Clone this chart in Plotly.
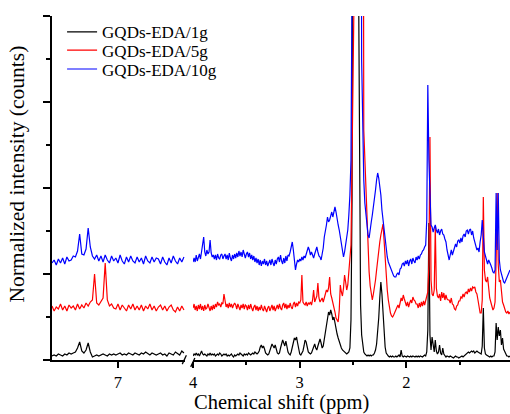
import numpy as np
import plotly.graph_objects as go

# ---- chemical-shift grids (ppm) for the two axis segments ----
ppm_left = np.round(np.linspace(7.62, 6.38, 63), 2)
ppm_right = np.round(np.linspace(4.00, 1.03, 298), 2)

# ---- raw intensities (arbitrary counts) ----
black_left = [4,5,4,6,5,4,6,5,7,6,
              7,8,12,18,9,7,10,17,8,3,
              4,5,4,5,6,5,4,6,5,6,
              5,6,7,5,6,5,7,6,5,7,
              6,5,7,6,8,6,5,7,6,5,
              6,7,5,6,4,7,6,5,8,6,
              5,9,7]
red_left = [54,49,53,51,56,50,54,49,55,52,
            54,50,56,51,55,52,57,54,58,60,
            86,57,55,58,62,97,60,54,56,52,
            51,56,50,55,52,49,55,51,56,50,
            54,50,55,49,54,51,56,50,54,49,
            53,55,50,54,49,53,55,50,48,53,
            49,54,50]
blue_left = [97,100,95,101,97,102,96,103,99,100,
             104,103,109,126,106,105,111,132,113,104,
             101,105,99,104,98,105,100,97,104,99,
             102,97,105,99,96,103,98,104,99,97,
             103,98,102,96,104,99,97,103,98,102,
             101,96,103,98,95,102,97,104,99,96,
             102,98,103]

black_right = [4,6,5,7,5,6,4,7,9,6,
               5,6,5,4,6,5,7,5,6,5,
               6,4,5,6,5,7,6,4,5,6,
               5,6,4,5,4,5,6,4,3,5,
               4,5,6,5,7,6,5,4,6,5,
               6,5,7,6,5,6,7,6,8,7,
               6,7,9,13,15,12,14,11,7,6,
               5,6,9,13,16,14,12,15,10,7,
               6,7,12,16,20,17,14,19,13,8,
               6,5,8,12,18,22,20,23,17,10,
               6,5,7,9,14,20,18,12,8,7,
               6,7,10,14,16,12,10,14,18,21,
               17,12,14,20,28,36,42,48,45,50,
               46,40,43,36,30,26,22,18,15,12,
               10,9,8,7,6,7,8,12,40,160,
               900,900,900,900,900,400,150,55,25,14,
               8,6,5,4,5,4,5,4,5,5,
               7,10,16,26,42,62,78,66,45,25,
               13,7,5,4,3,4,3,4,3,3,
               4,3,4,5,3,10,4,3,4,3,
               3,4,3,3,4,3,4,3,3,4,
               3,4,3,4,3,3,4,5,4,8,
               30,137,25,10,23,12,8,20,9,6,
               8,15,7,5,12,6,4,3,4,3,
               3,4,3,3,2,3,4,3,3,2,
               3,3,4,3,4,5,6,7,8,7,
               8,9,8,9,7,8,9,8,7,6,
               6,14,52,12,6,5,4,3,3,4,
               3,4,4,8,37,20,33,24,30,15,
               22,11,8,5,4,4,3,4]
red_right = [52,56,50,54,49,55,51,56,50,54,
             49,55,51,52,56,51,49,54,50,55,
             51,56,53,58,55,56,53,57,56,66,
             57,53,56,52,57,53,56,52,55,57,
             55,51,56,52,50,55,52,56,51,55,
             54,50,55,51,56,52,49,53,55,50,
             54,49,53,50,55,51,49,54,50,48,
             52,54,49,53,55,50,54,49,53,55,
             51,56,52,50,55,57,52,56,51,55,
             52,57,53,51,56,58,53,57,54,58,
             57,60,85,58,56,55,58,54,57,56,
             58,55,60,70,58,61,64,77,62,58,
             60,62,58,63,66,70,68,72,83,66,
             62,58,54,48,42,40,38,50,75,68,
             64,72,85,78,70,75,88,95,115,200,
             260,300,450,900,900,900,900,900,600,900,
             230,200,173,130,107,88,74,65,60,66,
             72,80,90,102,112,118,125,132,136,120,
             100,85,70,60,52,47,44,43,45,48,
             50,53,55,52,58,62,59,65,61,58,
             54,58,53,57,60,57,63,60,59,56,
             56,52,57,53,58,54,59,55,60,63,
             68,95,223,80,66,64,70,133,72,64,
             62,66,59,68,62,67,60,65,61,60,
             60,57,62,56,55,51,50,54,55,59,
             59,63,62,66,63,67,68,66,71,68,
             72,69,73,72,73,68,66,60,52,47,
             47,60,163,90,80,78,83,70,62,58,
             55,50,52,58,100,167,95,78,80,65,
             58,55,50,48,47,49,46,48]
blue_right = [98,102,98,105,99,104,106,101,109,112,
              123,108,104,110,106,108,120,107,103,105,
              101,105,100,106,102,101,105,106,101,104,
              106,101,105,100,107,102,99,105,101,106,
              102,107,103,109,104,108,103,110,105,102,
              106,108,103,107,101,105,100,104,98,102,
              97,101,95,100,94,99,96,101,95,99,
              94,98,100,95,101,97,94,100,96,101,
              103,98,105,99,96,102,97,104,99,105,
              104,108,112,118,110,102,90,96,100,98,
              101,99,103,100,104,102,106,108,113,110,
              105,108,104,102,106,110,113,108,104,103,
              100,106,112,123,128,135,143,138,140,145,
              148,143,150,153,148,140,135,130,124,118,
              110,103,108,115,120,130,145,165,200,400,
              900,900,900,700,500,450,600,900,300,220,
              180,157,145,132,125,122,128,138,145,152,
              160,170,180,187,182,175,165,150,140,130,
              120,110,103,98,95,92,88,86,84,83,
              83,86,87,85,91,92,96,97,94,99,
              96,100,94,99,101,96,102,99,97,103,
              100,104,101,105,106,109,110,113,115,140,
              275,200,150,135,133,128,132,135,130,127,
              131,125,129,131,126,125,121,118,110,105,
              100,105,110,105,109,112,116,113,119,120,
              117,122,118,124,126,123,129,130,126,130,
              131,125,129,122,118,114,110,112,108,118,
              125,140,118,108,104,100,96,100,98,95,
              92,88,87,90,167,110,167,100,90,85,
              82,78,77,80,83,86,88,90]

series_names = ["GQDs-EDA/1g", "GQDs-EDA/5g", "GQDs-EDA/10g"]
series_colors = ["#000000", "#ff0000", "#0000ff"]
left_vals = [black_left, red_left, blue_left]
right_vals = [black_right, red_right, blue_right]
NORM = 86.0  # normalisation factor

x_ticks_left = [7]
x_ticks_right = [4, 3, 2]

FONT = "Liberation Serif, Times New Roman, serif"
D1_END = 0.2904
D2_START = 0.3079
legend_ids = ["legend", "legend2", "legend3"]
legend_tops = [1.005, 0.952, 0.897]

fig = go.Figure()
for i, (name, col) in enumerate(zip(series_names, series_colors)):
    fig.add_trace(go.Scatter(x=ppm_left, y=np.array(left_vals[i]) / NORM,
                             mode="lines", line=dict(color=col, width=1.2),
                             xaxis="x", yaxis="y", name=name,
                             legendgroup=name, showlegend=False))
    fig.add_trace(go.Scatter(x=ppm_right, y=np.array(right_vals[i]) / NORM,
                             mode="lines", line=dict(color=col, width=1.2),
                             xaxis="x2", yaxis="y", name=name,
                             legendgroup=name, showlegend=True,
                             legend=legend_ids[i]))

axis_common = dict(showgrid=False, zeroline=False, showline=True,
                   linecolor="black", linewidth=1.5, ticks="outside",
                   tickcolor="black", ticklen=6, tickwidth=1.5,
                   tickfont=dict(family=FONT, size=16.5, color="black"))

legend_style = dict(x=0.022, xanchor="left", yanchor="top",
                    font=dict(family=FONT, size=17, color="black"),
                    bgcolor="rgba(0,0,0,0)", itemwidth=30)

fig.update_layout(
    width=510, height=414,
    margin=dict(l=52, r=0, t=16, b=54),
    paper_bgcolor="white", plot_bgcolor="white",
    xaxis=dict(domain=[0, D1_END], range=[7.62, 6.37], tickvals=x_ticks_left,
               anchor="y", **axis_common),
    xaxis2=dict(domain=[D2_START, 1], range=[4.0, 1.03], tickvals=x_ticks_right,
                anchor="y",
                minor=dict(dtick=0.5, ticks="outside", ticklen=3, tickwidth=1.5,
                           tickcolor="black"),
                **axis_common),
    yaxis=dict(range=[0, 4], dtick=1, showticklabels=False,
               minor=dict(dtick=0.5, ticks="outside", ticklen=4, tickwidth=1.5,
                          tickcolor="black"),
               **{k: v for k, v in axis_common.items() if k not in ("ticklen",)},
               ticklen=7),
    legend=dict(y=legend_tops[0], **legend_style),
    legend2=dict(y=legend_tops[1], **legend_style),
    legend3=dict(y=legend_tops[2], **legend_style),
    showlegend=True,
    annotations=[
        dict(text="Chemical shift (ppm)", xref="paper", yref="paper",
             x=0.5, y=-0.124, xanchor="center", yanchor="middle",
             showarrow=False, font=dict(family=FONT, size=20.5, color="black")),
        dict(text="Normalized intensity (counts)", xref="paper", yref="paper",
             x=-0.076, y=0.54, xanchor="center", yanchor="middle", textangle=-90,
             showarrow=False, font=dict(family=FONT, size=21.5, color="black")),
    ],
    shapes=[
        dict(type="line", xref="paper", yref="paper",
             x0=D1_END - 0.006, y0=-0.012, x1=D1_END + 0.003, y1=0.014,
             line=dict(color="black", width=1.3)),
        dict(type="line", xref="paper", yref="paper",
             x0=D2_START - 0.005, y0=-0.02, x1=D2_START + 0.004, y1=0.006,
             line=dict(color="black", width=1.3)),
    ],
)

fig.write_html("out.html")
